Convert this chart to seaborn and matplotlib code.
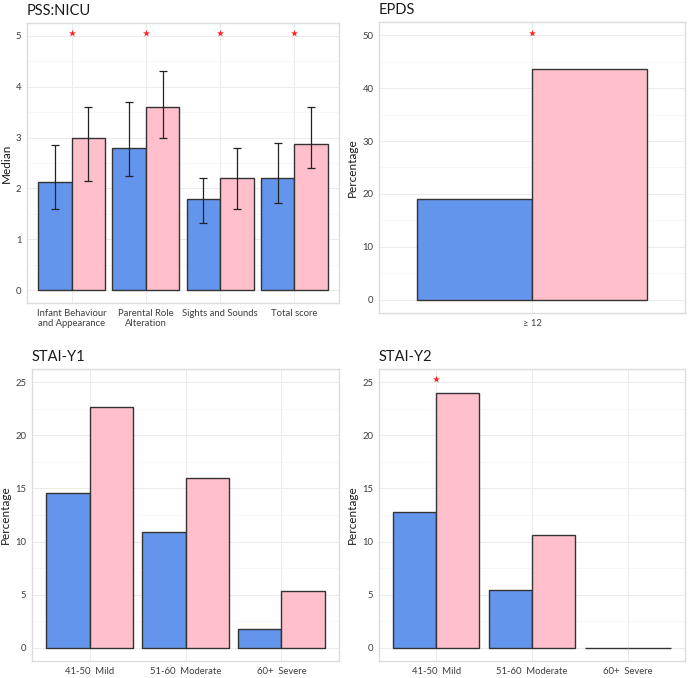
import matplotlib
matplotlib.use("Agg")
import matplotlib.pyplot as plt
import seaborn as sns
import pandas as pd
import numpy as np

# --- data ---
groups = ["A", "B"]
colors = ["#6495ED", "#FFC0CB"]

pss_cats = ["Infant Behaviour\nand Appearance", "Parental Role\nAlteration", "Sights and Sounds", "Total score"]
pss_a = [2.13, 2.8, 1.8, 2.2]
pss_b = [3.0, 3.6, 2.2, 2.88]
pss_a_lo = [1.6, 2.25, 1.33, 1.72]
pss_a_hi = [2.85, 3.7, 2.2, 2.9]
pss_b_lo = [2.14, 3.0, 1.6, 2.4]
pss_b_hi = [3.6, 4.3, 2.8, 3.6]
pss_star_idx = [0, 1, 2, 3]
pss_star_y = 5.05

epds_cats = ["\u2265 12"]
epds_a = [19.0]
epds_b = [43.7]
epds_star_idx = [0]
epds_star_y = 50.5

stai_cats = ["41-50  Mild", "51-60  Moderate", "60+  Severe"]
y1_a = [14.55, 10.9, 1.8]
y1_b = [22.65, 16.0, 5.3]
y2_a = [12.75, 5.45, 0.0]
y2_b = [24.0, 10.65, 0.0]
y2_star_idx = [0]
y2_star_y = 25.3


def long_df(cats, a, b):
    return pd.DataFrame({
        "cat": list(cats) * 2,
        "grp": [groups[0]] * len(cats) + [groups[1]] * len(cats),
        "val": list(a) + list(b),
    })


def style_ax(ax, title, ylabel, ymax, step):
    ax.set_facecolor("white")
    ax.set_ylim(-0.05 * ymax, 1.05 * ymax)
    ax.set_xlim(-0.6, len(ax.get_xticks()) - 0.4)
    ax.set_yticks(np.arange(0, ymax + step / 2, step))
    ax.set_yticks(np.arange(step / 2, ymax, step), minor=True)
    ax.grid(True, which="major", color="#ebebeb", linewidth=0.7)
    ax.grid(True, which="minor", axis="y", color="#f4f4f4", linewidth=0.5)
    ax.set_axisbelow(True)
    for s in ax.spines.values():
        s.set_color("#dcdcdc")
        s.set_linewidth(1.0)
    ax.tick_params(axis="both", which="major", length=2, color="#cccccc",
                   labelsize=6.8, labelcolor="#3d3d3d", pad=2)
    ax.tick_params(axis="both", which="minor", length=0)
    ax.set_xlabel("")
    ax.set_ylabel(ylabel, fontsize=8.5, color="#1a1a1a", labelpad=3)
    ax.set_title(title, loc="left", fontsize=10.5, color="#1a1a1a", pad=6)
    if ax.get_legend() is not None:
        ax.get_legend().remove()


def draw_bars(ax, cats, a, b):
    df = long_df(cats, a, b)
    sns.barplot(data=df, x="cat", y="val", hue="grp", order=cats, hue_order=groups,
                palette=colors, saturation=1, width=0.9, gap=0, errorbar=None,
                edgecolor="#333333", linewidth=1.0, ax=ax, legend=False)


def stars(ax, idx, y):
    ax.scatter(idx, [y] * len(idx), marker="*", s=28, color="#ff2020", zorder=5, linewidths=0)


sns.set_style("white")
plt.rcParams["font.family"] = ["Lato", "DejaVu Sans"]

fig = plt.figure(figsize=(6.88, 6.78), dpi=100)
W, H = 688.0, 678.0


def add_ax(x0, y0, x1, y1):
    return fig.add_axes([x0 / W, 1 - y1 / H, (x1 - x0) / W, (y1 - y0) / H])


ax1 = add_ax(27, 23, 339, 303)
ax2 = add_ax(379, 22, 685, 313)
ax3 = add_ax(32, 369, 339, 661)
ax4 = add_ax(379, 369, 685, 661)

# PSS:NICU with error bars
draw_bars(ax1, pss_cats, pss_a, pss_b)
bars = [p for p in ax1.patches]
n = len(pss_cats)
xa = [p.get_x() + p.get_width() / 2 for p in bars[:n]]
xb = [p.get_x() + p.get_width() / 2 for p in bars[n:2 * n]]
for xs, v, lo, hi in [(xa, pss_a, pss_a_lo, pss_a_hi), (xb, pss_b, pss_b_lo, pss_b_hi)]:
    v = np.array(v)
    ax1.errorbar(xs, v, yerr=[v - np.array(lo), np.array(hi) - v], fmt="none",
                 ecolor="#222222", elinewidth=0.9, capsize=3, capthick=0.9, zorder=4)
stars(ax1, pss_star_idx, pss_star_y)
style_ax(ax1, "PSS:NICU", "Median", 5, 1)

draw_bars(ax2, epds_cats, epds_a, epds_b)
stars(ax2, epds_star_idx, epds_star_y)
style_ax(ax2, "EPDS", "Percentage", 50, 10)

draw_bars(ax3, stai_cats, y1_a, y1_b)
style_ax(ax3, "STAI-Y1", "Percentage", 25, 5)

draw_bars(ax4, stai_cats, y2_a, y2_b)
stars(ax4, y2_star_idx, y2_star_y)
style_ax(ax4, "STAI-Y2", "Percentage", 25, 5)

fig.savefig("out.png", dpi=100, facecolor="white")
